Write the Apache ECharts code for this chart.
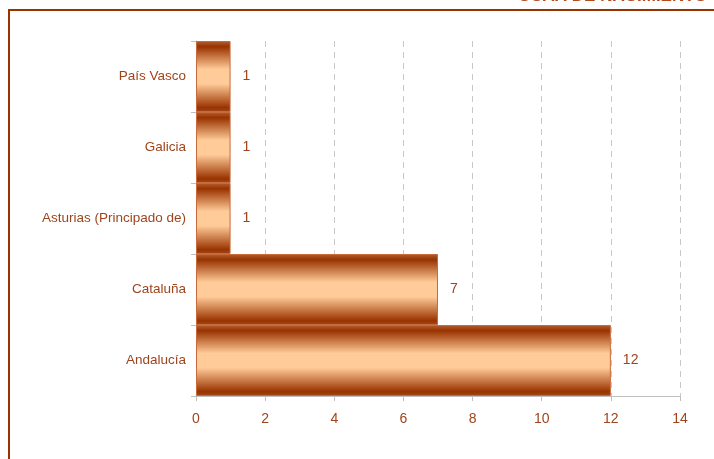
<!DOCTYPE html>
<html>
<head>
<meta charset="utf-8">
<script src="https://cdn.jsdelivr.net/npm/echarts@6/dist/echarts.min.js"></script>
<style>
  html, body { margin: 0; padding: 0; background: #fff; }
  #chart { width: 714px; height: 459px; }
</style>
</head>
<body>
<div id="chart"></div>
<script>
// comunidades (de abajo a arriba) y número de casos
var regiones = ['Andalucía', 'Cataluña', 'Asturias (Principado de)', 'Galicia', 'País Vasco'];
var casos = [12, 7, 1, 1, 1];
var tituloRecortado = 'CCAA DE NACIMIENTO';

var marron = '#993300';
var textoColor = '#a0441c';

var chart = echarts.init(document.getElementById('chart'));

var degradado = new echarts.graphic.LinearGradient(0, 0, 0, 1, [
    {offset: 0, color: '#b06035'},
    {offset: 0.08, color: '#993300'},
    {offset: 0.4, color: '#ffcc99'},
    {offset: 0.6, color: '#ffcc99'},
    {offset: 0.94, color: '#993300'},
    {offset: 1, color: '#a04a20'}
]);

var option = {
    animation: false,
    textStyle: {fontFamily: 'Liberation Sans, Arial, sans-serif'},
    grid: {left: 196, right: 34, top: 41, bottom: 63},
    xAxis: {
        type: 'value',
        min: 0,
        max: 14,
        interval: 2,
        axisLine: {show: true, lineStyle: {color: '#bfbfbf', width: 1}},
        axisTick: {show: true, length: 5, lineStyle: {color: '#bfbfbf'}},
        axisLabel: {color: textoColor, fontSize: 14, margin: 16},
        splitLine: {show: true, lineStyle: {color: '#c8c8c8', type: [6, 5], width: 1}}
    },
    yAxis: {
        type: 'category',
        data: regiones,
        axisLine: {show: true, lineStyle: {color: '#bfbfbf', width: 1}},
        axisTick: {show: true, length: 5, lineStyle: {color: '#bfbfbf'}},
        axisLabel: {color: textoColor, fontSize: 13.5, margin: 10},
        splitLine: {show: false}
    },
    series: [{
        type: 'bar',
        data: casos,
        barCategoryGap: 0,
        itemStyle: {
            color: degradado,
            borderColor: '#c86a3a',
            borderWidth: 1
        },
        label: {
            show: true,
            position: 'right',
            distance: 12,
            color: textoColor,
            fontSize: 14
        }
    }],
    graphic: [
        {
            type: 'polyline',
            shape: {points: [[9, 459], [9, 10], [714, 10]]},
            style: {stroke: marron, lineWidth: 2, fill: null}
        },
        {
            type: 'text',
            x: 518,
            y: 4.5,
            style: {
                text: tituloRecortado,
                fill: '#b5491a',
                font: 'bold 17px Liberation Sans, Arial, sans-serif',
                textVerticalAlign: 'bottom'
            }
        }
    ]
};

chart.setOption(option);
</script>
</body>
</html>
